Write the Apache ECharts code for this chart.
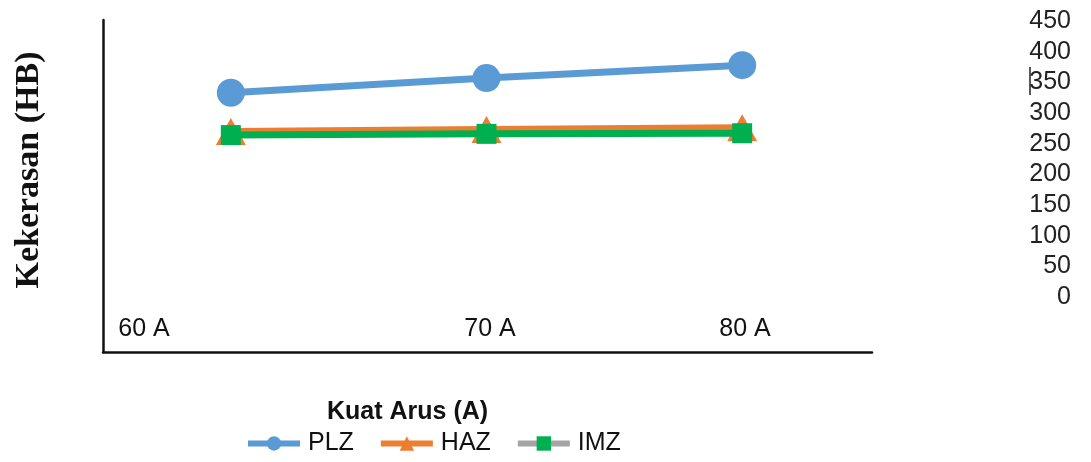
<!DOCTYPE html>
<html>
<head>
<meta charset="utf-8">
<style>
  html, body { margin: 0; padding: 0; background: #fff; }
  #chart { width: 1091px; height: 462px; }
</style>
<script src="https://cdn.jsdelivr.net/npm/echarts@6/dist/echarts.min.js"></script>
</head>
<body>
<div id="chart"></div>
<script>
// Hardness (Brinell) by welding current, per zone
const categories = ['60 A', '70 A', '80 A'];
const plz = [333, 357, 378];
const haz = [270, 273, 276];
const imz = [264, 266, 267];
const yTicks = { min: 0, max: 450, interval: 50 };
const xTickLabels = ['60 A', '70 A', '80 A'];
const xTitle = 'Kuat Arus (A)';
const yTitle = 'Kekerasan (HB)';

// where the bottom tick labels sit inside the frame
const xLabelPos = [144, 490, 745];

const sans = '"Liberation Sans", Arial, sans-serif';
const serif = '"Liberation Serif", "Times New Roman", serif';

const chart = echarts.init(document.getElementById('chart'), null, { renderer: 'canvas' });

const option = {
  animation: false,
  backgroundColor: '#ffffff',
  title: {
    text: xTitle,
    left: 327,
    top: 400,
    padding: 0,
    textStyle: { fontFamily: sans, fontWeight: 'bold', fontSize: 25, color: '#111' }
  },
  legend: {
    left: 245,
    top: 431,
    padding: 0,
    itemWidth: 52,
    itemHeight: 18,
    itemGap: 24,
    textStyle: { fontFamily: sans, fontSize: 25, color: '#111', padding: [0, 0, 0, 3] },
    data: [
      { name: 'PLZ', lineStyle: { width: 6 } },
      { name: 'HAZ', lineStyle: { width: 6 } },
      { name: 'IMZ', lineStyle: { color: '#a5a5a5', width: 6 }, itemStyle: { color: '#00b050' } }
    ]
  },
  grid: [
    // plotting area for the data
    { left: 103, top: 21, width: 767, height: 276, containLabel: false },
    // outer frame with the two dark axis lines
    { left: 103, top: 20, width: 769, height: 332, containLabel: false }
  ],
  xAxis: [
    {
      gridIndex: 0,
      type: 'category',
      data: categories,
      boundaryGap: true,
      axisLine: { show: false },
      axisTick: { show: false },
      axisLabel: { show: false },
      splitLine: { show: false }
    },
    {
      gridIndex: 1,
      type: 'value',
      min: 0, max: 1,
      axisLine: { show: true, onZero: false, lineStyle: { color: '#111', width: 2.5 } },
      axisTick: { show: false },
      axisLabel: { show: false },
      splitLine: { show: false }
    }
  ],
  yAxis: [
    {
      gridIndex: 0,
      type: 'value',
      position: 'right',
      min: yTicks.min,
      max: yTicks.max,
      interval: yTicks.interval,
      axisLine: { show: false },
      axisTick: { show: false },
      splitLine: { show: false },
      axisLabel: {
        show: true,
        align: 'right',
        margin: 201,
        fontFamily: sans,
        fontSize: 25,
        color: '#222'
      }
    },
    {
      gridIndex: 1,
      type: 'value',
      min: 0, max: 1,
      axisLine: { show: true, onZero: false, lineStyle: { color: '#111', width: 2.5 } },
      axisTick: { show: false },
      axisLabel: { show: false },
      splitLine: { show: false }
    }
  ],
  series: [
    {
      name: 'PLZ',
      type: 'line',
      xAxisIndex: 0, yAxisIndex: 0,
      data: plz,
      symbol: 'circle',
      symbolSize: 28,
      lineStyle: { color: '#5b9bd5', width: 7 },
      itemStyle: { color: '#5b9bd5' },
      z: 3
    },
    {
      name: 'HAZ',
      type: 'line',
      xAxisIndex: 0, yAxisIndex: 0,
      data: haz,
      symbol: 'triangle',
      symbolSize: [30, 27],
      lineStyle: { color: '#ed7d31', width: 7 },
      itemStyle: { color: '#ed7d31' },
      z: 4
    },
    {
      name: 'IMZ',
      type: 'line',
      xAxisIndex: 0, yAxisIndex: 0,
      data: imz,
      symbol: 'rect',
      symbolSize: 20,
      lineStyle: { color: '#00b050', width: 7 },
      itemStyle: { color: '#00b050' },
      z: 5
    }
  ],
  graphic: [
    ...xTickLabels.map((t, i) => ({
      type: 'text',
      x: xLabelPos[i],
      y: 329,
      style: {
        text: t,
        fontFamily: sans,
        fontSize: 25,
        fill: '#111',
        align: 'center',
        verticalAlign: 'middle'
      }
    })),
    {
      type: 'text',
      x: 29,
      y: 170,
      rotation: Math.PI / 2,
      style: {
        text: yTitle,
        fontFamily: serif,
        fontWeight: 'bold',
        fontSize: 34,
        fill: '#111',
        align: 'center',
        verticalAlign: 'middle'
      }
    },
    {
      // small caret mark beside the 350 label
      type: 'line',
      shape: { x1: 1030, y1: 67, x2: 1030, y2: 95 },
      style: { stroke: '#222', lineWidth: 1.5 }
    }
  ]
};

chart.setOption(option);
</script>
</body>
</html>
